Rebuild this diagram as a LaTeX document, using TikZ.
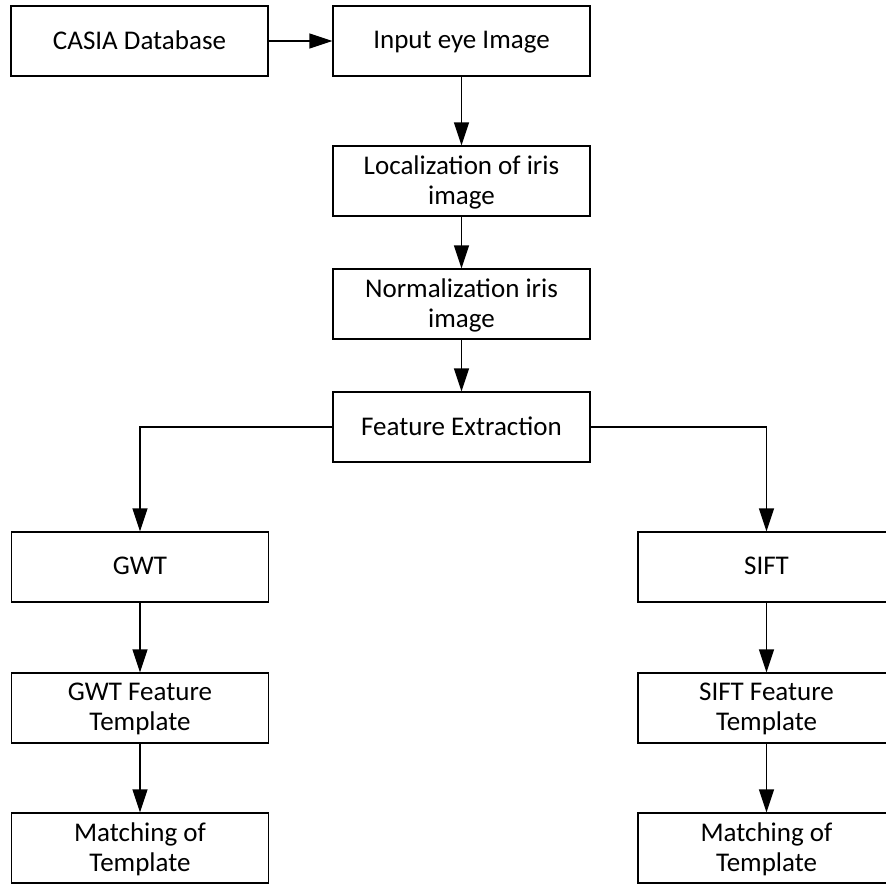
\documentclass[tikz,border=0pt]{standalone}
\usepackage{fontspec}
\setmainfont{Carlito}
\usepackage{tikz}
\usetikzlibrary{arrows.meta,positioning}
\tikzset{
  flowbox/.style={draw=black,line width=0.65pt,minimum width=128.5pt,minimum height=35pt,
                  inner sep=2pt,align=center,text depth=0.1em,
                  font=\fontsize{13.5}{15}\selectfont},
  flowarrow/.style={-{Triangle[length=11.5pt,width=7.5pt]},line width=0.65pt},
}

\begin{document}
\begin{tikzpicture}[x=0.5pt,y=-0.5pt]
\useasboundingbox (0,0) rectangle (886,884);

% =================================================================
% main column -- acquisition and preprocessing
% =================================================================
\node[flowbox] (casia) at (139.5, 41)  {CASIA Database};
\node[flowbox] (input) at (461.5, 41)  {Input eye Image};
\node[flowbox] (loc)   at (461.5, 181) {Localization of iris\\image};
\node[flowbox] (norm)  at (461.5, 304) {Normalization iris\\image};
\node[flowbox] (feat)  at (461.5, 427) {Feature Extraction};

\draw[flowarrow] (casia) -- (input);
\foreach \a/\b in {input/loc, loc/norm, norm/feat}
  \draw[flowarrow] (\a) -- (\b);

% =================================================================
% left branch -- GWT
% =================================================================
\node[flowbox] (gwt)   at (140, 567) {GWT};
\node[flowbox] (gwtft) at (140, 708) {GWT Feature\\Template};
\node[flowbox] (gwtmt) at (140, 848) {Matching of\\Template};

% =================================================================
% right branch -- SIFT
% =================================================================
\node[flowbox] (sift)   at (766.5, 567) {SIFT};
\node[flowbox] (siftft) at (766.5, 708) {SIFT Feature\\Template};
\node[flowbox] (siftmt) at (766.5, 848) {Matching of\\Template};

\draw[flowarrow] (feat.west) -| (gwt.north);
\draw[flowarrow] (feat.east) -| (sift.north);
\foreach \a/\b in {gwt/gwtft, gwtft/gwtmt, sift/siftft, siftft/siftmt}
  \draw[flowarrow] (\a) -- (\b);

\end{tikzpicture}
\end{document}
